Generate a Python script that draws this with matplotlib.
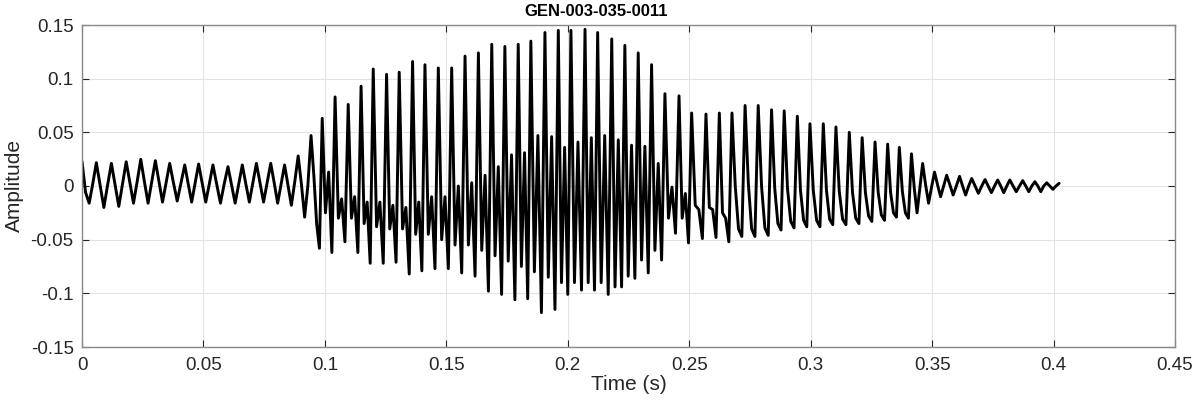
import numpy as np
import matplotlib
matplotlib.use("Agg")
import matplotlib.pyplot as plt
from matplotlib.ticker import FuncFormatter

plt.rcParams['font.family'] = ['Liberation Sans', 'DejaVu Sans']

# ---- data (one entry per glottal cycle) ----
# time of each main peak (s)
peak_time = [0.0000, 0.0059, 0.0121, 0.0182, 0.0242, 0.0302, 0.0361, 0.0423, 0.0480, 0.0539,
             0.0601, 0.0660, 0.0718, 0.0777, 0.0834, 0.0890, 0.0943, 0.0989, 0.1042, 0.1096,
             0.1149, 0.1199, 0.1254, 0.1306, 0.1361, 0.1412, 0.1467, 0.1522, 0.1577, 0.1632,
             0.1687, 0.1741, 0.1796, 0.1848, 0.1906, 0.1961, 0.2013, 0.2071, 0.2123, 0.2181,
             0.2235, 0.2290, 0.2345, 0.2400, 0.2458, 0.2510, 0.2569, 0.2624, 0.2676, 0.2730,
             0.2784, 0.2839, 0.2891, 0.2945, 0.2997, 0.3052, 0.3104, 0.3159, 0.3212, 0.3265,
             0.3317, 0.3365, 0.3415, 0.3461, 0.3510, 0.3560, 0.3613, 0.3663, 0.3718, 0.3770,
             0.3820, 0.3873, 0.3923, 0.3972]
# main peak amplitude
peak_amp = [0.023, 0.0217, 0.0211, 0.0226, 0.0249, 0.0236, 0.0211, 0.0196, 0.0205, 0.0196,
            0.0180, 0.0196, 0.0211, 0.0211, 0.0196,
            0.028, 0.047, 0.063, 0.083, 0.076, 0.093, 0.109, 0.104, 0.106, 0.116, 0.113, 0.110, 0.110,
            0.121, 0.124, 0.132, 0.130, 0.132, 0.135, 0.143, 0.145, 0.145, 0.146, 0.143, 0.137, 0.131,
            0.124, 0.113,
            0.086, 0.084, 0.068, 0.067, 0.068, 0.068, 0.075, 0.075, 0.071, 0.070, 0.065,
            0.058, 0.058, 0.055, 0.050, 0.045, 0.041, 0.039, 0.036, 0.030, 0.021, 0.013, 0.010,
            0.009, 0.007, 0.006, 0.0056, 0.0056, 0.005, 0.004, 0.003]
# level a quarter cycle after the peak
dip_amp = [-0.006,
           0.001, 0.001, 0.003, 0.004, 0.004, 0.003, 0.002, 0.003, 0.002, 0.001, 0.002, 0.003, 0.003, 0.001,
           0.002, 0.010, -0.025, -0.030, -0.030, -0.035, -0.038, -0.040, -0.040, -0.045, -0.045, -0.050, -0.055,
           -0.055, -0.060, -0.065, -0.070, -0.075, -0.080, -0.085, -0.090, -0.090, -0.090, -0.090, -0.094,
           -0.084, -0.069, -0.060,
           -0.030, -0.030, -0.018, -0.020, -0.025,
           0.000, 0.002, 0.000, -0.002, -0.002, -0.004,
           -0.004, -0.004, -0.005, -0.006, -0.006, -0.006, -0.006, -0.005,
           -0.002, 0.001, 0.001, 0.001, 0.000, 0.000, 0.000, 0.000, 0.000, 0.000, 0.000, 0.000]
# level half a cycle after the peak (secondary peak in the loud part)
mid_amp = [-0.016,
           -0.020, -0.019, -0.016, -0.016, -0.015, -0.014, -0.015, -0.015, -0.016, -0.016, -0.015, -0.015,
           -0.016, -0.018,
           -0.029, -0.035, 0.013, -0.012, -0.010, -0.015, -0.015, -0.018, -0.020, -0.015, -0.010, -0.010, 0.000,
           0.003, 0.010, 0.018, 0.029, 0.031, 0.047, 0.046, 0.036, 0.041, 0.045, 0.047, 0.043, 0.038,
           0.037, 0.021,
           -0.001, -0.007, -0.022, -0.022, -0.030,
           -0.040, -0.040, -0.039, -0.035, -0.033, -0.032,
           -0.032, -0.031, -0.031, -0.030, -0.028, -0.027, -0.025, -0.025,
           -0.025, -0.016, -0.010, -0.0084, -0.0084, -0.0068, -0.0062, -0.0062, -0.0053, -0.0053,
           -0.0053, -0.0031]
# level three quarters of a cycle after the peak (deep trough in the loud part)
trough_amp = [0.002,
              0.001, 0.002, 0.004, 0.004, 0.003, 0.003, 0.003, 0.002, 0.002, 0.002, 0.003, 0.003, 0.002, 0.004,
              0.000, -0.058, -0.062, -0.052, -0.062, -0.072, -0.072, -0.071, -0.082, -0.079, -0.077, -0.077,
              -0.081,
              -0.084, -0.098, -0.101, -0.106, -0.105, -0.118, -0.115, -0.101, -0.097, -0.097, -0.101, -0.094,
              -0.086, -0.081, -0.069,
              -0.044, -0.053, -0.049, -0.048, -0.052,
              -0.047, -0.047, -0.046, -0.041, -0.039, -0.038,
              -0.038, -0.036, -0.036, -0.035, -0.033, -0.032, -0.029, -0.030,
              -0.002, -0.001, 0.000, 0.000, 0.000, 0.000, 0.000, 0.000, 0.000, 0.000, 0.000, 0.000]
end_time = 0.4023
end_amp = 0.0025

x_ticks = [0, 0.05, 0.1, 0.15, 0.2, 0.25, 0.3, 0.35, 0.4, 0.45]
y_ticks = [-0.15, -0.1, -0.05, 0, 0.05, 0.1, 0.15]

# ---- build the polyline from the per-cycle levels ----
phases = [0.0, 0.25, 0.5, 0.75]
t_pts, y_pts = [], []
n = len(peak_time)
for i in range(n):
    t0 = peak_time[i]
    t1 = peak_time[i + 1] if i + 1 < n else end_time
    levels = [peak_amp[i], dip_amp[i], mid_amp[i], trough_amp[i]]
    for ph, lv in zip(phases, levels):
        t_pts.append(t0 + ph * (t1 - t0))
        y_pts.append(lv)
t_pts.append(end_time)
y_pts.append(end_amp)

# ---- figure ----
fig = plt.figure(figsize=(11.93, 4.04), dpi=100)
ax = fig.add_axes([82 / 1193, 1 - 347 / 404, (1175 - 82) / 1193, (347 - 25) / 404])
ax.plot(t_pts, y_pts, color='black', linewidth=2.1, solid_joinstyle='round',
        solid_capstyle='round')

ax.set_xlim(0, 0.45)
ax.set_ylim(-0.15, 0.15)
ax.set_xticks(x_ticks)
ax.set_yticks(y_ticks)
fmt = FuncFormatter(lambda v, p: ('%g' % round(v, 4)))
ax.xaxis.set_major_formatter(fmt)
ax.yaxis.set_major_formatter(fmt)
ax.grid(True, color='#e3e3e3', linewidth=0.8)
ax.set_axisbelow(True)
ax.tick_params(direction='in', length=5, width=0.8, colors='#262626', labelsize=13.5,
               top=True, right=True)
ax.tick_params(axis='x', pad=7)
ax.tick_params(axis='y', pad=6)
for s in ax.spines.values():
    s.set_color('#8a8a8a')
    s.set_linewidth(1.0)
ax.set_xlabel('Time (s)', fontsize=15, color='#262626', labelpad=1)
ax.set_ylabel('Amplitude', fontsize=15, color='#262626', labelpad=5)
fig.text(0.5, 1 - 11 / 404, 'GEN-003-035-0011', ha='center', va='center',
         fontsize=12, fontweight='bold', color='black')

fig.savefig('out.png', dpi=100)
